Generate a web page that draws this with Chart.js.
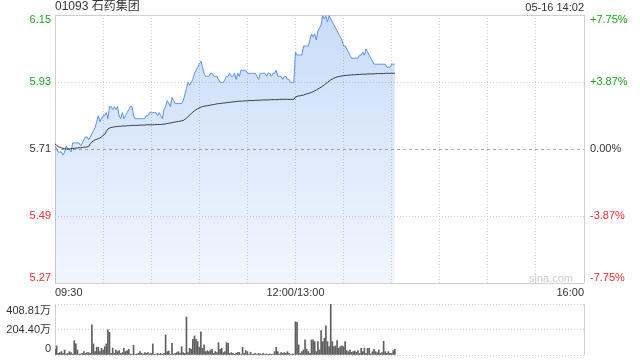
<!DOCTYPE html>
<html>
<head>
<meta charset="utf-8">
<script src="https://cdn.jsdelivr.net/npm/chart.js@4.4.1/dist/chart.umd.min.js"></script>
<style>
  body { margin: 0; background: #fff; width: 640px; height: 360px; overflow: hidden; position: relative; }
  #price { position: absolute; left: 0; top: 0; }
  #vol { position: absolute; left: 0; top: 300px; }
</style>
</head>
<body>
<canvas id="price" width="640" height="300"></canvas>
<canvas id="vol" width="640" height="60"></canvas>
<script>
const stockName = '01093 石药集团';
const quoteTime = '05-16 14:02';
const prevClose = 5.71;
const maxPct = 7.75;
const sessionMinutes = 330;
const gridMinutes = [0, 30, 60, 90, 120, 150, 180, 210, 240, 270, 300, 330];
const timeTickMinutes = [0, 150, 330];
const timeTickLabels = ['09:30', '12:00/13:00', '16:00'];

// last price per minute, 09:30 .. 14:02
const prices = [
  5.72, 5.71, 5.70, 5.70, 5.70, 5.69, 5.70, 5.72, 5.71, 5.71, 5.70,
  5.73, 5.73, 5.73, 5.73, 5.73, 5.72, 5.73, 5.74, 5.75, 5.75, 5.74,
  5.75, 5.76, 5.77, 5.78, 5.80, 5.82, 5.80, 5.81, 5.82, 5.82,
  5.83, 5.81, 5.85, 5.85, 5.84, 5.85, 5.84, 5.85, 5.82, 5.81,
  5.83, 5.81, 5.82, 5.83, 5.84, 5.85, 5.85, 5.82, 5.81, 5.81,
  5.81, 5.81, 5.81, 5.81, 5.81, 5.82, 5.82, 5.83, 5.83, 5.83, 5.83,
  5.83, 5.82, 5.83, 5.82, 5.81, 5.84, 5.85, 5.87, 5.86, 5.85,
  5.88, 5.87, 5.86, 5.86, 5.86, 5.86, 5.86, 5.87, 5.89, 5.91, 5.93,
  5.92, 5.93, 5.94, 5.96, 5.97, 5.98, 5.99, 6.00, 5.98, 5.96,
  5.95, 5.95, 5.95, 5.96, 5.96, 5.95, 5.95, 5.95, 5.94, 5.93,
  5.93, 5.93, 5.94, 5.95, 5.95, 5.96, 5.95, 5.95, 5.96, 5.94,
  5.96, 5.95, 5.97, 5.97, 5.97, 5.97, 5.96, 5.96, 5.96, 5.96, 5.96,
  5.96, 5.95, 5.94, 5.96, 5.96, 5.96, 5.96, 5.95, 5.96, 5.96,
  5.95, 5.96, 5.96, 5.97, 5.95, 5.95, 5.95, 5.94, 5.95, 5.95,
  5.94, 5.94, 5.93, 5.93, 5.93,
  // 13:00
  6.03, 6.02, 6.02, 6.02, 6.02, 6.05, 6.05, 6.05, 6.05, 6.07,
  6.09, 6.08, 6.09, 6.07, 6.10, 6.11, 6.12, 6.15, 6.14, 6.15,
  6.13, 6.15, 6.14, 6.13, 6.12, 6.11, 6.10, 6.09, 6.08, 6.07,
  6.05, 6.05, 6.04, 6.03, 6.02, 6.01, 6.01, 6.01, 6.01, 6.01,
  6.02, 6.02, 6.03, 6.02, 6.04, 6.03, 6.02, 6.01, 6.00, 5.99,
  5.99, 5.99, 5.99, 5.99, 5.99, 5.99, 5.99, 5.98, 5.98, 5.98,
  5.99, 5.99, 5.99
];

// average price line
const avgPrices = [
  5.727, 5.722, 5.718, 5.716, 5.714, 5.712, 5.711, 5.710, 5.710, 5.710, 5.711,
  5.712, 5.712, 5.713, 5.713, 5.714, 5.714, 5.715, 5.716, 5.716, 5.717, 5.718,
  5.728, 5.733, 5.737, 5.740, 5.742, 5.744, 5.746, 5.750, 5.755, 5.758, 5.768,
  5.776, 5.779, 5.781, 5.782,
  5.783, 5.784, 5.784, 5.785, 5.785, 5.786, 5.786, 5.786, 5.787, 5.787, 5.787, 5.788,
  5.788, 5.788, 5.788, 5.788, 5.789, 5.789, 5.789, 5.789, 5.790, 5.790,
  5.790, 5.790, 5.790, 5.790, 5.791, 5.791, 5.791, 5.791, 5.792, 5.792,
  5.793, 5.794, 5.795, 5.796, 5.797, 5.798, 5.799, 5.800, 5.801, 5.802, 5.803,
  5.804, 5.808, 5.812, 5.817, 5.822, 5.827, 5.832, 5.836, 5.840, 5.843, 5.846, 5.848, 5.850,
  5.851, 5.852, 5.853, 5.854, 5.855, 5.856, 5.857, 5.858, 5.859, 5.860,
  5.860, 5.861, 5.862, 5.862, 5.863, 5.864, 5.864, 5.865, 5.866,
  5.866, 5.867, 5.867, 5.868, 5.868, 5.868, 5.869, 5.869, 5.869, 5.870,
  5.870, 5.870, 5.870, 5.871, 5.871, 5.871, 5.871, 5.872, 5.872, 5.872,
  5.872, 5.872, 5.873, 5.873, 5.873, 5.873, 5.873, 5.873, 5.874, 5.874,
  5.874, 5.874, 5.874, 5.874, 5.874, 5.874, 5.874, 5.874,
  5.882, 5.884, 5.885, 5.886, 5.887, 5.888, 5.890, 5.892, 5.893, 5.895,
  5.897, 5.899, 5.902, 5.905, 5.908, 5.911, 5.914, 5.918, 5.922, 5.926,
  5.930, 5.934, 5.938, 5.941, 5.944, 5.946, 5.948, 5.949, 5.950, 5.951,
  5.952, 5.953, 5.953, 5.954, 5.954, 5.955, 5.955, 5.955, 5.956, 5.956,
  5.956, 5.957, 5.957, 5.957, 5.957, 5.958, 5.958, 5.958, 5.958, 5.958,
  5.959, 5.959, 5.959, 5.959, 5.959, 5.959, 5.960, 5.960, 5.960, 5.960,
  5.960, 5.960, 5.960
];

// volume per minute, in 万 shares
const volumes = [
  46, 73, 13, 19, 27, 13, 40, 8, 13, 27, 19, 8, 115, 89, 40, 8, 8,
  13, 27, 13, 19, 19, 13, 242, 89, 27, 62, 62, 27, 54, 40, 67, 89, 202,
  183, 13, 54, 13, 40, 27, 35, 13, 19, 54, 27, 35, 46, 8, 5, 78, 5, 8, 13,
  27, 13, 8, 19, 13, 19, 8, 13, 89, 5, 8, 13, 8, 13, 5, 13, 161,
  27, 32, 5, 94, 8, 13, 19, 27, 13, 67, 19, 13, 304,
  19, 54, 46, 126, 153, 126, 107, 62, 185, 54, 81, 27, 35, 27, 40, 46,
  13, 27, 19, 99, 46, 54, 19, 27, 99, 94,
  13, 19, 13, 5, 13, 21, 21, 5, 62, 13, 35, 27, 8, 21, 5, 8, 13, 5, 13, 8,
  5, 13, 5, 8, 5, 8, 5, 8, 27, 62, 27, 8, 19, 13, 19, 13, 27, 13, 5, 8,
  8,
  266, 261,
  81, 13, 27, 40, 121, 46, 27, 13, 121, 121, 107, 27, 107, 40, 196, 107, 134, 234, 107, 67, 408.81,
  107, 67, 73, 115, 54, 67, 73, 67, 107, 35, 27, 40, 21, 27, 32, 21, 35, 13, 54, 27,
  54, 13, 54, 54, 8, 27, 46, 27, 19, 40, 13, 19, 110,
  27, 13, 27, 13, 13, 35, 46
];

const FONT = '"Liberation Sans", Arial, "Noto Sans CJK SC", sans-serif';
const GREEN = '#1fa31f';
const RED = '#f02c2c';
const GRID = '#cfcfcf';

const hi = prevClose * (1 + maxPct / 100);
const lo = prevClose * (1 - maxPct / 100);
const priceTicks = [0, 1, 2, 3, 4].map(k => lo + k * (hi - lo) / 4);
const volMax = Math.max(...volumes);
const volTicks = [0, volMax / 2, volMax];

function trunc2(v) {
  return (Math.floor(v * 100 + 1e-4) / 100).toFixed(2);
}

function edgeDash(ctx, min, max) {
  const v = ctx.tick ? ctx.tick.value : null;
  if (v === null || Math.abs(v - min) < 1e-6 || Math.abs(v - max) < 1e-6) return [];
  return [1, 2];
}

const priceText = {
  id: 'priceText',
  afterDraw(chart) {
    const {ctx, chartArea: a, scales: {x, y}} = chart;
    ctx.save();
    ctx.textBaseline = 'middle';
    ctx.fillStyle = '#333';
    ctx.font = '12px ' + FONT;
    ctx.textAlign = 'left';
    ctx.fillText(stockName, a.left, 7);
    ctx.font = '11px ' + FONT;
    ctx.textAlign = 'right';
    ctx.fillText(quoteTime, a.right, 8);

    priceTicks.forEach((v, i) => {
      let py = y.getPixelForValue(v);
      if (i === 0) py -= 5;
      if (i === priceTicks.length - 1) py += 5;
      const pct = (v - prevClose) / prevClose * 100;
      const zero = Math.abs(pct) < 1e-6;
      ctx.fillStyle = zero ? '#333' : (pct > 0 ? GREEN : RED);
      ctx.textAlign = 'right';
      ctx.fillText(v.toFixed(2), a.left - 4, py);
      ctx.textAlign = 'left';
      const pctText = zero ? '0.00%' : (pct > 0 ? '+' : '-') + trunc2(Math.abs(pct)) + '%';
      ctx.fillText(pctText, a.right + 6, py);
    });

    ctx.fillStyle = '#333';
    timeTickMinutes.forEach((m, i) => {
      const px = x.getPixelForValue(m);
      ctx.textAlign = i === 0 ? 'left' : (i === timeTickMinutes.length - 1 ? 'right' : 'center');
      ctx.fillText(timeTickLabels[i], px, a.bottom + 10);
    });

    ctx.fillStyle = '#cccccc';
    ctx.textAlign = 'right';
    ctx.fillText('sina.com', a.right - 11, a.bottom - 4);
    ctx.restore();
  }
};

const volText = {
  id: 'volText',
  afterDraw(chart) {
    const {ctx, chartArea: a, scales: {y}} = chart;
    ctx.save();
    ctx.textBaseline = 'middle';
    ctx.font = '11px ' + FONT;
    ctx.fillStyle = '#333';
    ctx.textAlign = 'right';
    volTicks.forEach((v, i) => {
      let py = y.getPixelForValue(v);
      if (i === 0) py -= 6;
      if (i === volTicks.length - 1) py += 7;
      ctx.fillText(v === 0 ? '0' : trunc2(v) + '万', a.left - 4, py);
    });
    ctx.restore();
  }
};

new Chart(document.getElementById('price'), {
  type: 'line',
  data: {
    datasets: [
      {
        data: avgPrices.map((v, i) => ({x: i, y: v})),
        borderColor: '#2e3a4a',
        borderWidth: 1,
        pointRadius: 0,
        fill: false
      },
      {
        data: prices.map((v, i) => ({x: i, y: v})),
        borderColor: '#5591f0',
        borderWidth: 1,
        pointRadius: 0,
        fill: 'start',
        backgroundColor(c) {
          const a = c.chart.chartArea;
          if (!a) return 'rgba(85,145,240,0.2)';
          const g = c.chart.ctx.createLinearGradient(0, a.top, 0, a.bottom);
          g.addColorStop(0, 'rgba(80,140,235,0.30)');
          g.addColorStop(1, 'rgba(80,140,235,0.08)');
          return g;
        }
      }
    ]
  },
  options: {
    responsive: false,
    animation: false,
    events: [],
    layout: {padding: {left: 55, right: 56, top: 15, bottom: 17}},
    plugins: {legend: {display: false}, tooltip: {enabled: false}},
    scales: {
      x: {
        type: 'linear',
        min: 0,
        max: sessionMinutes,
        afterBuildTicks(s) { s.ticks = gridMinutes.map(v => ({value: v})); },
        afterFit(s) { s.height = 0; },
        ticks: {display: false},
        grid: {color: GRID, drawTicks: false},
        border: {display: false, dash: c => edgeDash(c, 0, sessionMinutes)}
      },
      y: {
        min: lo,
        max: hi,
        afterBuildTicks(s) { s.ticks = priceTicks.map(v => ({value: v})); },
        afterFit(s) { s.width = 0; },
        ticks: {display: false},
        grid: {
          drawTicks: false,
          color: c => (c.tick && Math.abs(c.tick.value - prevClose) < 1e-6) ? '#a8a8a8' : GRID
        },
        border: {
          display: false,
          dash: c => (c.tick && Math.abs(c.tick.value - prevClose) < 1e-6) ? [3, 3] : edgeDash(c, lo, hi)
        }
      }
    }
  },
  plugins: [priceText]
});

new Chart(document.getElementById('vol'), {
  type: 'bar',
  data: {
    datasets: [{
      data: volumes.map((v, i) => ({x: i, y: v})),
      backgroundColor: '#5e5e5e',
      barThickness: 1
    }]
  },
  options: {
    responsive: false,
    animation: false,
    events: [],
    layout: {padding: {left: 55, right: 56, top: 4, bottom: 5}},
    plugins: {legend: {display: false}, tooltip: {enabled: false}},
    scales: {
      x: {
        type: 'linear',
        min: 0,
        max: sessionMinutes,
        offset: false,
        afterBuildTicks(s) { s.ticks = [0, sessionMinutes].map(v => ({value: v})); },
        afterFit(s) { s.height = 0; },
        ticks: {display: false},
        grid: {color: GRID, drawTicks: false, offset: false},
        border: {display: false}
      },
      y: {
        min: 0,
        max: volMax,
        afterBuildTicks(s) { s.ticks = volTicks.map(v => ({value: v})); },
        afterFit(s) { s.width = 0; },
        ticks: {display: false},
        grid: {color: GRID, drawTicks: false},
        border: {display: false, dash: [1, 2]}
      }
    }
  },
  plugins: [volText]
});
</script>
</body>
</html>
